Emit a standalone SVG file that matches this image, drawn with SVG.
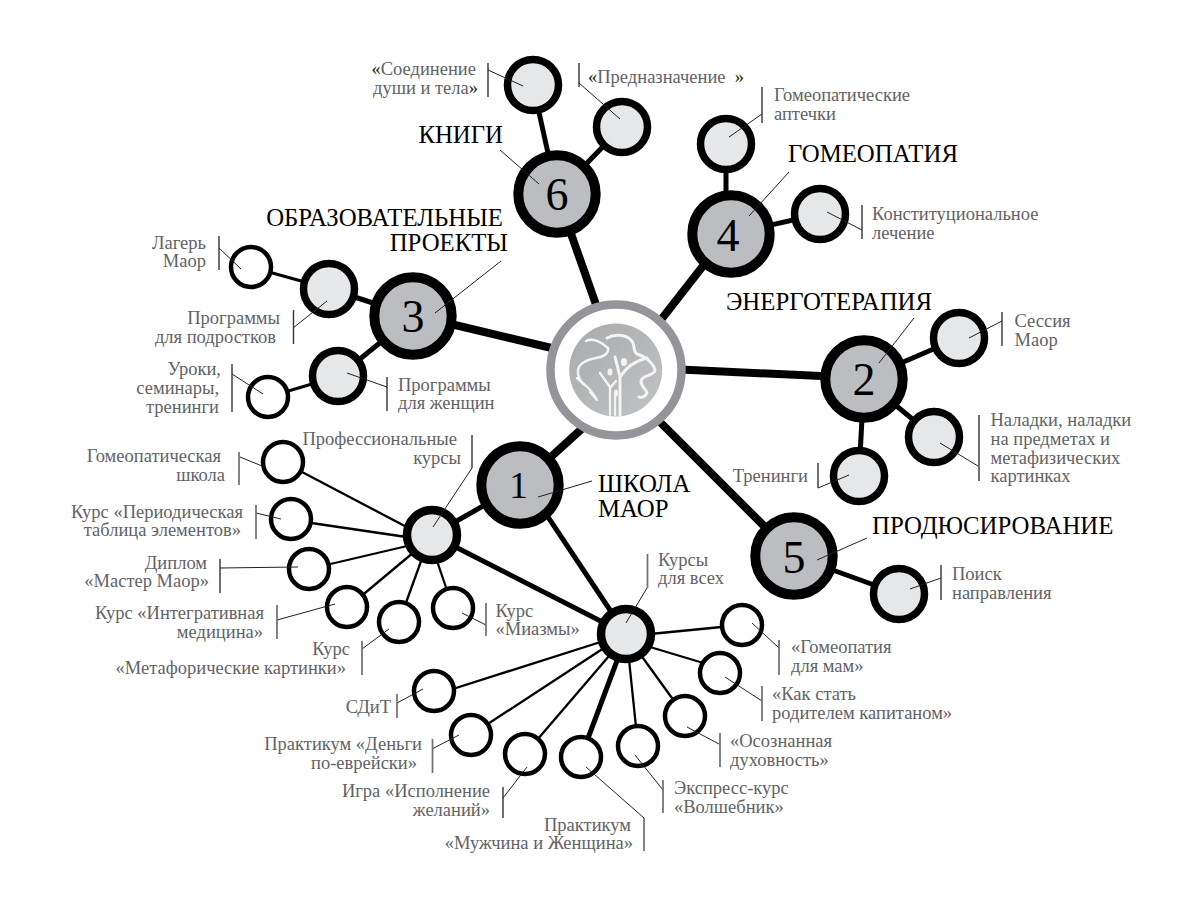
<svg xmlns="http://www.w3.org/2000/svg" width="1200" height="900" viewBox="0 0 1200 900">
<style>
text{font-family:"Liberation Serif","Noto Sans CJK SC",serif}
.l{font-size:18.5px;fill:#626366}
.q{fill:#231f20}
.e{text-anchor:end}
.h{font-size:24.8px;fill:#000}
.n{font-size:46px;fill:#000;text-anchor:middle}
.big{fill:#bcbdc0;stroke:#000;stroke-width:10}
.hub{fill:#e6e7e8;stroke:#000;stroke-width:8.500}
.sg{fill:#e6e7e8;stroke:#000;stroke-width:7.500}
.sw{fill:#fff;stroke:#000;stroke-width:4.500}
.c line{stroke:#000}
.t8{stroke-width:8}.t5{stroke-width:5}.t3{stroke-width:3}.t2{stroke-width:2.300}
.lead path{fill:none;stroke:#231f20;stroke-width:1}
.bar path{fill:none;stroke:#333;stroke-width:1.400}
.bar path.g{stroke:#6d6e71;stroke-width:1.700}
</style>
<defs><linearGradient id="lg" x1="0" y1="0" x2="1" y2="1"><stop offset="0" stop-color="#a9aaac"/><stop offset="1" stop-color="#c2c3c4"/></linearGradient></defs>
<g id="connectors" class="c">
<line class="t8" x1="586" y1="425" x2="520" y2="485"/>
<line class="t8" x1="680" y1="369.500" x2="864" y2="378"/>
<line class="t8" x1="560" y1="350" x2="413" y2="315"/>
<line class="t8" x1="660" y1="321" x2="728" y2="234"/>
<line class="t8" x1="655" y1="417" x2="794" y2="556"/>
<line class="t8" x1="600" y1="316" x2="557" y2="194"/>
<line class="t5" x1="520" y1="485" x2="432" y2="535"/>
<line class="t5" x1="540" y1="505" x2="626" y2="634"/>
<line class="t5" x1="432" y1="535" x2="626" y2="634"/>
<line class="t5" x1="864" y1="379" x2="959" y2="338"/>
<line class="t5" x1="864" y1="379" x2="934" y2="437"/>
<line class="t5" x1="864" y1="379" x2="859" y2="476"/>
<line class="t5" x1="413" y1="316" x2="330" y2="289"/>
<line class="t3" x1="330" y1="289" x2="251" y2="267"/>
<line class="t5" x1="413" y1="316" x2="339" y2="376"/>
<line class="t3" x1="339" y1="376" x2="268" y2="397"/>
<line class="t5" x1="726" y1="234" x2="726" y2="144"/>
<line class="t5" x1="731" y1="234" x2="820" y2="214"/>
<line class="t5" x1="794" y1="556" x2="899" y2="594"/>
<line class="t5" x1="557" y1="194" x2="533" y2="85"/>
<line class="t5" x1="557" y1="194" x2="622" y2="127"/>
<line class="t2" x1="283" y1="462" x2="420" y2="534"/>
<line class="t2" x1="291" y1="520" x2="420" y2="539"/>
<line class="t2" x1="309" y1="569" x2="420" y2="543"/>
<line class="t2" x1="347" y1="608" x2="420" y2="547"/>
<line class="t2" x1="399" y1="622" x2="424" y2="553"/>
<line class="t2" x1="453" y1="608" x2="436" y2="558"/>
<line class="t2" x1="742" y1="625" x2="640" y2="635"/>
<line class="t2" x1="720" y1="668" x2="640" y2="644"/>
<line class="t2" x1="685" y1="716" x2="635" y2="647"/>
<line class="t2" x1="638" y1="746" x2="628" y2="650"/>
<line class="t5" x1="581" y1="757" x2="621" y2="650"/>
<line class="t2" x1="525" y1="754" x2="615" y2="649"/>
<line class="t2" x1="471" y1="735" x2="610" y2="644"/>
<line class="t2" x1="434" y1="695" x2="610" y2="639"/>
</g>
<g id="center">
<circle cx="616" cy="370" r="65.500" fill="#fff" stroke="#939598" stroke-width="8.500"/>
<circle cx="615.700" cy="370" r="46.500" fill="url(#lg)"/>
<g fill="none" stroke="#f4f4f4" stroke-linecap="round" stroke-linejoin="round">
<path d="M586 341C592 338 600 341 608 348C609 354 603 357 596 358C586 360 579 364 578 370C577 376 581 383 585 385" stroke-width="2.500"/>
<path d="M607 338C614 334 625 334 631 340C636 345 632 351 637 354C645 356 654 364 655 370C655 375 645 375 642 379C638 384 647 390 647 393C645 397 641 398 639 397" stroke-width="3"/>
<path d="M620 415L620 377L615 357M620 377C625 369 634 361 647 358" stroke-width="3"/>
<path d="M610 415L610 387L600 373M610 388L616 381M615 415L615 393" stroke-width="2.300"/>
<path d="M577 378C582 384 590 386 597 400M590 392L596 399" stroke-width="2.200"/>
</g>
<g fill="#f4f4f4">
<ellipse cx="624" cy="362" rx="3" ry="4"/>
<ellipse cx="610" cy="372" rx="2.500" ry="3.500"/>
<ellipse cx="616" cy="393" rx="2" ry="3.500"/>
</g>
</g>
<g id="n1"><circle class="big" cx="520" cy="485" r="38.700"/><text class="n" x="518.500" y="498" style="font-size:37px">1</text></g>
<g id="n2"><circle class="big" cx="864" cy="379" r="38.700"/><text class="n" x="864" y="395">2</text></g>
<g id="n3"><circle class="big" cx="413" cy="316" r="38.700"/><text class="n" x="413" y="332">3</text></g>
<g id="n4"><circle class="big" cx="731" cy="234" r="38.700"/><text class="n" x="728" y="251">4</text></g>
<g id="n5"><circle class="big" cx="794" cy="556" r="38.700"/><text class="n" x="794" y="573">5</text></g>
<g id="n6"><circle class="big" cx="557" cy="194" r="38.700"/><text class="n" x="557" y="210">6</text></g>
<g id="hub-a"><circle class="hub" cx="432" cy="535" r="25"/></g>
<g id="hub-b"><circle class="hub" cx="626" cy="634" r="25"/></g>
<g id="g1"><circle class="sg" cx="533" cy="85" r="25.500"/></g>
<g id="g2"><circle class="sg" cx="622" cy="127" r="25.500"/></g>
<g id="g3"><circle class="sg" cx="726" cy="144" r="25.500"/></g>
<g id="g4"><circle class="sg" cx="820" cy="214" r="25.500"/></g>
<g id="g5"><circle class="sg" cx="329" cy="289" r="25.500"/></g>
<g id="g6"><circle class="sg" cx="338" cy="376" r="25.500"/></g>
<g id="g7"><circle class="sg" cx="959" cy="338" r="25.500"/></g>
<g id="g8"><circle class="sg" cx="934" cy="437" r="25.500"/></g>
<g id="g9"><circle class="sg" cx="859" cy="476" r="25.500"/></g>
<g id="g10"><circle class="sg" cx="899" cy="594" r="25.500"/></g>
<g id="w1"><circle class="sw" cx="251" cy="267" r="20"/></g>
<g id="w2"><circle class="sw" cx="268" cy="397" r="20"/></g>
<g id="w3"><circle class="sw" cx="283" cy="462" r="20"/></g>
<g id="w4"><circle class="sw" cx="291" cy="519" r="20"/></g>
<g id="w5"><circle class="sw" cx="309" cy="569" r="20"/></g>
<g id="w6"><circle class="sw" cx="347" cy="607" r="20"/></g>
<g id="w7"><circle class="sw" cx="399" cy="622" r="20"/></g>
<g id="w8"><circle class="sw" cx="453" cy="608" r="20"/></g>
<g id="w9"><circle class="sw" cx="742" cy="625" r="20"/></g>
<g id="w10"><circle class="sw" cx="720" cy="673" r="20"/></g>
<g id="w11"><circle class="sw" cx="685" cy="716" r="20"/></g>
<g id="w12"><circle class="sw" cx="638" cy="746" r="20"/></g>
<g id="w13"><circle class="sw" cx="581" cy="757" r="20"/></g>
<g id="w14"><circle class="sw" cx="525" cy="754" r="20"/></g>
<g id="w15"><circle class="sw" cx="471" cy="735" r="20"/></g>
<g id="w16"><circle class="sw" cx="434" cy="691" r="20"/></g>
<g class="lead">
<path d="M488 70L523 86M579 83L620 119M762 114L729 137M862 230L827 212M1002 321L969 338M978 466L940 443M818 488L849 475M941 578L910 589"/>
<path d="M219 248L241 269M293 328L327 301M232 374L263 394M387 387L347 373M240 457L262 466M256 513L281 519M220 568L298 567M277 620L335 604M362 649L389 629M486 625L462 613"/>
<path d="M779 648L752 623M762 701L725 677M719 744L687 727M663 790L635 755M644 818L586 767M503 798L527 767M432 749L459 735M397 703L423 689"/>
<path d="M472 468L433 527M500 150L539 184M501 261L435 313M789 172L749 216M914 318L879 363M592 481L538 497M867 538L817 560M647 588L626 623"/>
</g>
<g class="bar">
<path d="M488 63V97M579 63V87M762 87V123M862 205V239M1002 312V346M979 415V481M818 463V488M941 565V600M219 236V270M293.500 310V344M232 364V412M387 377V411M220 559V593M503 787V818M472 435V468"/>
<path class="g" d="M239 452V485M256 505V539M277 605V639M362 641V675M486 603V636M779 640V675M762 686V721M720 733V767M663 780V813M644 818V851M432.500 739V773M397 694V718M647.500 554V588"/>
</g>
<g id="labels">
<text class="h e" x="503" y="143">КНИГИ</text>
<text class="h e" x="503" y="226">ОБРАЗОВАТЕЛЬНЫЕ</text>
<text class="h e" x="508" y="251">ПРОЕКТЫ</text>
<text class="h" x="788" y="162">ГОМЕОПАТИЯ</text>
<text class="h" x="726" y="310">ЭНЕРГОТЕРАПИЯ</text>
<text class="h" x="598" y="492">ШКОЛА</text>
<text class="h" x="598" y="517">МАОР</text>
<text class="h" x="872" y="534">ПРОДЮСИРОВАНИЕ</text>
<text class="l e" x="476" y="75"><tspan class="q">«</tspan>Соединение</text>
<text class="l e" x="478" y="94">души и тела<tspan class="q">»</tspan></text>
<text class="l" x="588" y="83" xml:space="preserve"><tspan class="q">«</tspan>Предназначение  <tspan class="q">»</tspan></text>
<text class="l" x="774" y="101">Гомеопатические</text>
<text class="l" x="774" y="120">аптечки</text>
<text class="l" x="872" y="220">Конституциональное</text>
<text class="l" x="872" y="239">лечение</text>
<text class="l" x="1014.500" y="327">Сессия</text>
<text class="l" x="1014.500" y="346">Маор</text>
<text class="l" x="990.500" y="426">Наладки, наладки</text>
<text class="l" x="990.500" y="445">на предметах и</text>
<text class="l" x="990.500" y="464">метафизических</text>
<text class="l" x="990.500" y="482">картинках</text>
<text class="l e" x="808" y="482">Тренинги</text>
<text class="l" x="952" y="580">Поиск</text>
<text class="l" x="952" y="599">направления</text>
<text class="l e" x="206" y="249">Лагерь</text>
<text class="l e" x="206" y="267">Маор</text>
<text class="l e" x="280" y="324">Программы</text>
<text class="l e" x="276" y="343">для подростков</text>
<text class="l e" x="221" y="375">Уроки,</text>
<text class="l e" x="219" y="394">семинары,</text>
<text class="l e" x="219" y="413">тренинги</text>
<text class="l" x="398" y="391">Программы</text>
<text class="l" x="398" y="409">для женщин</text>
<text class="l e" x="457" y="445">Профессиональные</text>
<text class="l e" x="461" y="464">курсы</text>
<text class="l e" x="221" y="462">Гомеопатическая</text>
<text class="l e" x="225" y="481">школа</text>
<text class="l e" x="243" y="518">Курс «Периодическая</text>
<text class="l e" x="241" y="536">таблица элементов»</text>
<text class="l e" x="207" y="569">Диплом</text>
<text class="l e" x="209" y="587">«Мастер Маор»</text>
<text class="l e" x="264" y="619">Курс «Интегративная</text>
<text class="l e" x="263" y="638">медицина»</text>
<text class="l e" x="350" y="655">Курс</text>
<text class="l e" x="346" y="674">«Метафорические картинки»</text>
<text class="l" x="495.500" y="617">Курс</text>
<text class="l" x="495.500" y="635">«Миазмы»</text>
<text class="l" x="658" y="566">Курсы</text>
<text class="l" x="658" y="584">для всех</text>
<text class="l" x="791" y="653">«Гомеопатия</text>
<text class="l" x="791" y="672">для мам»</text>
<text class="l" x="772" y="700">«Как стать</text>
<text class="l" x="772" y="719">родителем капитаном»</text>
<text class="l" x="730" y="747">«Осознанная</text>
<text class="l" x="730" y="766">духовность»</text>
<text class="l" x="674" y="794">Экспресс-курс</text>
<text class="l" x="674" y="813">«Волшебник»</text>
<text class="l e" x="631" y="831">Практикум</text>
<text class="l e" x="633" y="849">«Мужчина и Женщина»</text>
<text class="l e" x="490" y="797">Игра «Исполнение</text>
<text class="l e" x="490" y="816">желаний»</text>
<text class="l e" x="422" y="750">Практикум «Деньги</text>
<text class="l e" x="417" y="769">по-еврейски»</text>
<text class="l e" x="391" y="713">СДиТ</text>
</g>
</svg>
